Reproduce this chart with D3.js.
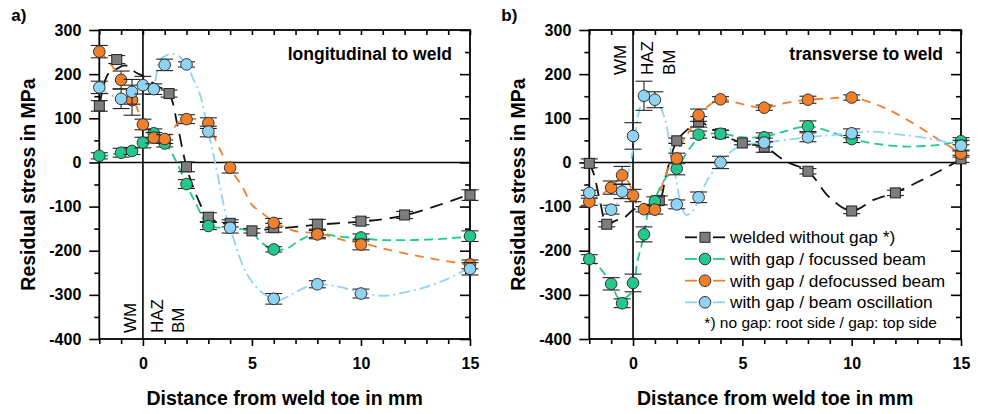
<!DOCTYPE html>
<html>
<head>
<meta charset="utf-8">
<script src="https://cdn.jsdelivr.net/npm/d3@7"></script>
<style>
  body { margin: 0; background: #fff; }
  svg { display: block; font-family: "Liberation Sans", Arial, sans-serif; }
</style>
</head>
<body>
<svg id="chart" width="982" height="414"></svg>
<script>
// ---------- axis ticks ----------
const xMajorTicks = [0, 5, 10, 15];
const xMinorTicks = [-2, -1, 1, 2, 3, 4, 6, 7, 8, 9, 11, 12, 13, 14];
const yMajorTicks = [300, 200, 100, 0, -100, -200, -300, -400];
const yMinorTicks = [250, 150, 50, -50, -150, -250, -350];
const yTickLabels = ["300", "200", "100", "0", "-100", "-200", "-300", "-400"];

const seriesNames = [
  "welded without gap *)",
  "with gap / focussed beam",
  "with gap / defocussed beam",
  "with gap / beam oscillation"
];
const zoneLabels = ["WM", "HAZ", "BM"];
const zoneX = [-0.33, 0.9, 1.9];

// ---------- a) longitudinal to weld : measured points ----------
const longBlackX = [-2, -1.2, 1.2, 2, 3, 4, 5, 6, 8, 10, 12, 15];
const longBlackY = [128, 233, 156, -10, -124, -138, -155, -148, -140, -133, -119, -74];
const longBlackErr = [12, 9, 8, 11, 10, 8, 5, 10, 11, 8, 8, 12];

const longGreenX = [-2, -1, -0.5, 0, 0.5, 1, 2, 3, 6, 8, 10, 15];
const longGreenY = [15, 22, 26, 45, 66, 43, -49, -144, -197, -162, -170, -167];
const longGreenErr = [7, 10, 8, 12, 10, 8, 10, 8, 6, 8, 8, 12];

const longOrangeX = [-2, -1, -0.5, 0, 0.5, 1, 2, 3, 4, 6, 8, 10, 15];
const longOrangeY = [251, 187, 141, 86, 56, 53, 98, 89, -12, -137, -163, -186, -231];
const longOrangeErr = [14, 20, 34, 12, 12, 10, 10, 12, 12, 10, 10, 12, 10];

const longBlueX = [-2, -1, -0.5, 0, 0.5, 1, 2, 3, 4, 6, 8, 10, 15];
const longBlueY = [170, 144, 160, 175, 166, 221, 222, 70, -148, -309, -276, -297, -241];
const longBlueErr = [14, 22, 28, 20, 12, 13, 6, 12, 12, 12, 8, 10, 14];

// ---------- a) smoothed trend curves ----------
const longBlackFitX = [-2, -1.6, -1.2, -0.8, -0.3, 0, 0.6, 1.2, 1.6, 2, 2.5, 3, 3.5, 4, 5, 6, 7, 8, 10, 12, 15];
const longBlackFitY = [128, 200, 212, 220, 203, 196, 175, 155, 80, -10, -80, -125, -135, -142, -153, -150, -146, -141, -134, -120, -72];

const longGreenFitX = [-2, -1.5, -1, -0.5, 0, 0.5, 1, 1.5, 2, 2.5, 3, 4, 5, 5.4, 6, 6.6, 7.2, 8, 9, 10, 11, 12, 13, 14, 15];
const longGreenFitY = [12, 17, 22, 28, 45, 55, 44, 5, -50, -100, -143, -148, -158, -180, -197, -195, -176, -161, -168, -172, -176, -176, -175, -172, -168];

const longOrangeFitX = [-2, -1.5, -1.2, -0.8, -0.36, 0, 0.25, 0.75, 1.2, 1.6, 2, 2.5, 3, 3.4, 3.7, 4, 4.5, 5, 5.4, 6, 6.6, 7.1, 8, 9.2, 10, 11, 12.4, 13.5, 15];
const longOrangeFitY = [252, 225, 202, 170, 134, 88, 66, 55, 62, 89, 97, 98, 88, 43, 13, -15, -50, -96, -112, -134, -149, -157, -160, -176, -182, -195, -210, -220, -232];

const longBlueFitX = [-2, -1.5, -1, -0.5, 0, 0.5, 0.75, 1.1, 1.5, 2, 2.3, 2.6, 3, 3.38, 3.84, 4.14, 4.6, 5.06, 5.52, 6, 6.28, 6.9, 7.5, 8, 8.57, 9.03, 10, 10.56, 11.17, 12.1, 13, 13.92, 15];
const longBlueFitY = [170, 153, 148, 158, 172, 180, 230, 243, 245, 222, 190, 157, 72, -17, -125, -170, -236, -274, -297, -310, -312, -297, -282, -276, -278, -282, -295, -300, -302, -293, -282, -265, -238];

// ---------- b) transverse to weld : measured points ----------
const transBlackX = [-2, -1.2, 1.2, 2, 3, 4, 5, 6, 8, 10, 12, 15];
const transBlackY = [-2, -140, -86, 49, 92, 65, 44, 35, -20, -110, -69, 8];
const transBlackErr = [10, 6, 10, 6, 12, 8, 4, 12, 6, 6, 6, 8];

const transGreenX = [-2, -1, -0.5, 0, 0.5, 1, 2, 3, 4, 6, 8, 10, 15];
const transGreenY = [-219, -275, -319, -273, -163, -88, -14, 63, 65, 57, 82, 53, 48];
const transGreenErr = [10, 14, 10, 20, 17, 10, 14, 8, 8, 10, 12, 8, 8];

const transOrangeX = [-2, -1, -0.5, 0, 0.5, 1, 2, 3, 4, 6, 8, 10, 15];
const transOrangeY = [-89, -57, -29, -75, -106, -107, 9, 107, 143, 124, 142, 147, 20];
const transOrangeErr = [8, 15, 20, 14, 6, 10, 12, 14, 6, 6, 8, 6, 8];

const transBlueX = [-2, -1, -0.5, 0, 0.5, 1, 2, 3, 4, 6, 8, 10, 15];
const transBlueY = [-69, -107, -66, 60, 151, 142, -95, -79, 0, 45, 57, 66, 38];
const transBlueErr = [6, 10, 16, 30, 33, 18, 10, 12, 14, 10, 10, 10, 12];

// ---------- b) smoothed trend curves ----------
const transBlackFitX = [-2, -1.8, -1.5, -1.2, -0.8, -0.4, 0, 0.5, 1.2, 1.5, 2, 2.5, 3, 3.5, 4, 5, 6, 7, 8, 9, 10, 11, 12, 13, 14, 15];
const transBlackFitY = [-2, -25, -90, -140, -132, -125, -108, -98, -86, -30, 48, 75, 93, 80, 65, 44, 35, 2, -20, -80, -110, -85, -68, -45, -20, 7];

const transGreenFitX = [-2, -1.5, -1, -0.6, 0, 0.17, 0.5, 0.78, 1, 1.5, 2, 2.5, 3, 3.5, 4, 5, 6, 6.9, 8, 9, 10, 11, 12.5, 14, 15];
const transGreenFitY = [-218, -240, -275, -310, -290, -232, -165, -93, -80, -35, -14, 25, 55, 65, 66, 57, 58, 70, 82, 70, 53, 43, 36, 40, 48];

const transOrangeFitX = [-2, -1.5, -1, -0.5, -0.2, 0.2, 0.5, 1, 1.4, 1.9, 2.5, 3, 3.5, 4, 5, 6, 7, 8, 9, 10, 11.4, 12.8, 14, 15];
const transOrangeFitY = [-88, -75, -57, -32, -45, -96, -104, -104, -40, 15, 65, 105, 130, 143, 132, 124, 135, 142, 145, 147, 126, 89, 51, 20];

const transBlueFitX = [-2, -1.7, -1.2, -0.8, -0.5, -0.3, 0, 0.3, 0.5, 1, 1.4, 1.7, 1.95, 2.2, 2.42, 2.7, 3.05, 3.4, 4, 4.7, 5.5, 6, 8, 10, 10.8, 12.4, 13.9, 15];
const transBlueFitY = [-66, -85, -105, -96, -75, -40, 30, 122, 148, 142, 108, 36, -32, -96, -119, -112, -78, -40, 0, 32, 43, 45, 57, 66, 70, 62, 51, 38];

// ---------- styling ----------
const fills = ["#7d7d7d", "#22c98a", "#f27f2a", "#8fd4f4"];
const strokes = ["#111111", "#22c98a", "#f27f2a", "#8fd4f4"];
const dashes = ["13,8", "9,5", "9,7", "11,4,2,4"];

const svg = d3.select("#chart");
const W = 982, H = 414;

function drawPanel(cfg) {
  const x = d3.scaleLinear().domain([-2, 15]).range([cfg.left, cfg.right]);
  const y = d3.scaleLinear().domain([-400, 300]).range([339, 30]);
  const g = svg.append("g");

  // zero reference lines
  g.append("line").attr("x1", x(-2)).attr("x2", x(15)).attr("y1", y(0)).attr("y2", y(0))
    .attr("stroke", "#000").attr("stroke-width", 1.6);
  g.append("line").attr("x1", x(0)).attr("x2", x(0)).attr("y1", y(300)).attr("y2", y(-400))
    .attr("stroke", "#000").attr("stroke-width", 1.6);

  // axes
  const styleAxis = sel => {
    sel.select(".domain").remove();
    sel.selectAll(".tick line").attr("stroke", "#000").attr("stroke-width", 1.6);
    sel.selectAll("text").attr("fill", "#000").attr("font-weight", "bold").attr("font-size", "16px")
      .attr("font-family", '"Liberation Sans", Arial, sans-serif');
  };
  g.append("g").attr("transform", `translate(0,${y(-400)})`)
    .call(d3.axisBottom(x).tickValues(xMinorTicks).tickSize(5).tickFormat(""))
    .call(styleAxis);
  g.append("g").attr("transform", `translate(0,${y(-400)})`)
    .call(d3.axisBottom(x).tickValues(xMajorTicks).tickSize(7).tickPadding(12).tickFormat(d => String(d)))
    .call(styleAxis);
  g.append("g").attr("transform", `translate(0,${y(300)})`)
    .call(d3.axisTop(x).tickValues(xMinorTicks.concat(xMajorTicks)).tickSize(-5).tickFormat(""))
    .call(styleAxis);
  g.append("g").attr("transform", `translate(${x(-2)},0)`)
    .call(d3.axisLeft(y).tickValues(yMinorTicks).tickSize(5).tickFormat(""))
    .call(styleAxis);
  g.append("g").attr("transform", `translate(${x(-2)},0)`)
    .call(d3.axisLeft(y).tickValues(yMajorTicks).tickSize(10).tickPadding(8)
      .tickFormat((d, i) => yTickLabels[i]))
    .call(styleAxis);
  g.append("g").attr("transform", `translate(${x(15)},0)`)
    .call(d3.axisRight(y).tickValues(yMinorTicks).tickSize(-5).tickFormat(""))
    .call(styleAxis);
  g.append("g").attr("transform", `translate(${x(15)},0)`)
    .call(d3.axisRight(y).tickValues(yMajorTicks).tickSize(-10).tickFormat(""))
    .call(styleAxis);

  // frame
  g.append("rect").attr("x", x(-2)).attr("y", y(300))
    .attr("width", x(15) - x(-2)).attr("height", y(-400) - y(300))
    .attr("fill", "none").attr("stroke", "#000").attr("stroke-width", 1.8);

  // axis titles
  g.append("text").attr("x", (x(-2) + x(15)) / 2).attr("y", 405).attr("text-anchor", "middle")
    .attr("font-weight", "bold").attr("font-size", "19.5px").text("Distance from weld toe in mm");
  g.append("text").attr("transform", `translate(${cfg.left - 64},${(y(300) + y(-400)) / 2}) rotate(-90)`)
    .attr("text-anchor", "middle").attr("font-weight", "bold").attr("font-size", "19.5px")
    .text("Residual stress in MPa");

  // panel letter and direction title
  g.append("text").attr("x", cfg.left - 88).attr("y", 21).attr("font-weight", "bold")
    .attr("font-size", "17px").text(cfg.letter);
  g.append("text").attr("x", x(15) - 18).attr("y", 60).attr("text-anchor", "end")
    .attr("font-weight", "bold").attr("font-size", "17.5px").text(cfg.title);

  // weld zone labels
  zoneLabels.forEach((lab, i) => {
    g.append("text").attr("transform", `translate(${x(zoneX[i])},${cfg.zoneY}) rotate(-90)`)
      .attr("font-size", "17px").text(lab);
  });

  // trend curves
  const line = d3.line().x(d => x(d[0])).y(d => y(d[1])).curve(d3.curveCatmullRom.alpha(0.5));
  cfg.fits.forEach((f, i) => {
    g.append("path").datum(d3.zip(f[0], f[1])).attr("d", line)
      .attr("fill", "none").attr("stroke", strokes[i]).attr("stroke-width", 1.8)
      .attr("stroke-dasharray", dashes[i]);
  });

  // error bars and symbols
  cfg.points.forEach((p, i) => {
    const pts = d3.zip(p[0], p[1], p[2]);
    const eg = g.append("g");
    pts.forEach(([px, py, pe]) => {
      const cx = x(px);
      eg.append("line").attr("x1", cx).attr("x2", cx).attr("y1", y(py + pe)).attr("y2", y(py - pe))
        .attr("stroke", "#222").attr("stroke-width", 1.1);
      [py + pe, py - pe].forEach(v => {
        eg.append("line").attr("x1", cx - 8.5).attr("x2", cx + 8.5).attr("y1", y(v)).attr("y2", y(v))
          .attr("stroke", "#222").attr("stroke-width", 1.1);
      });
      if (i === 0) {
        eg.append("rect").attr("x", cx - 5).attr("y", y(py) - 5).attr("width", 10).attr("height", 10)
          .attr("fill", fills[0]).attr("stroke", "#222").attr("stroke-width", 1);
      } else {
        eg.append("circle").attr("cx", cx).attr("cy", y(py)).attr("r", 5.8)
          .attr("fill", fills[i]).attr("stroke", "#333").attr("stroke-width", 1);
      }
    });
  });
  return { x, y, g };
}

drawPanel({
  left: 99.3, right: 470, letter: "a)", title: "longitudinal to weld", zoneY: 333,
  fits: [[longBlackFitX, longBlackFitY], [longGreenFitX, longGreenFitY],
         [longOrangeFitX, longOrangeFitY], [longBlueFitX, longBlueFitY]],
  points: [[longBlackX, longBlackY, longBlackErr], [longGreenX, longGreenY, longGreenErr],
           [longOrangeX, longOrangeY, longOrangeErr], [longBlueX, longBlueY, longBlueErr]]
});

const pb = drawPanel({
  left: 589.3, right: 961, letter: "b)", title: "transverse to weld", zoneY: 75,
  fits: [[transBlackFitX, transBlackFitY], [transGreenFitX, transGreenFitY],
         [transOrangeFitX, transOrangeFitY], [transBlueFitX, transBlueFitY]],
  points: [[transBlackX, transBlackY, transBlackErr], [transGreenX, transGreenY, transGreenErr],
           [transOrangeX, transOrangeY, transOrangeErr], [transBlueX, transBlueY, transBlueErr]]
});

// legend (panel b)
const legend = pb.g.append("g");
const rowY = [237.3, 259, 280.7, 302.3];
seriesNames.forEach((name, i) => {
  const ry = rowY[i];
  legend.append("line").attr("x1", 685).attr("x2", 697).attr("y1", ry).attr("y2", ry)
    .attr("stroke", strokes[i]).attr("stroke-width", 1.8);
  legend.append("line").attr("x1", 713).attr("x2", 725).attr("y1", ry).attr("y2", ry)
    .attr("stroke", strokes[i]).attr("stroke-width", 1.8);
  if (i === 0) {
    legend.append("rect").attr("x", 700).attr("y", ry - 5).attr("width", 10).attr("height", 10)
      .attr("fill", fills[0]).attr("stroke", "#222").attr("stroke-width", 1);
  } else {
    legend.append("circle").attr("cx", 705).attr("cy", ry).attr("r", 5.8)
      .attr("fill", fills[i]).attr("stroke", "#333").attr("stroke-width", 1);
  }
  legend.append("text").attr("x", 730).attr("y", ry + 6).attr("font-size", "17.3px").text(name);
});
legend.append("text").attr("x", 937).attr("y", 328).attr("text-anchor", "end")
  .attr("font-size", "15.5px").text("*) no gap: root side / gap: top side");
</script>
</body>
</html>
